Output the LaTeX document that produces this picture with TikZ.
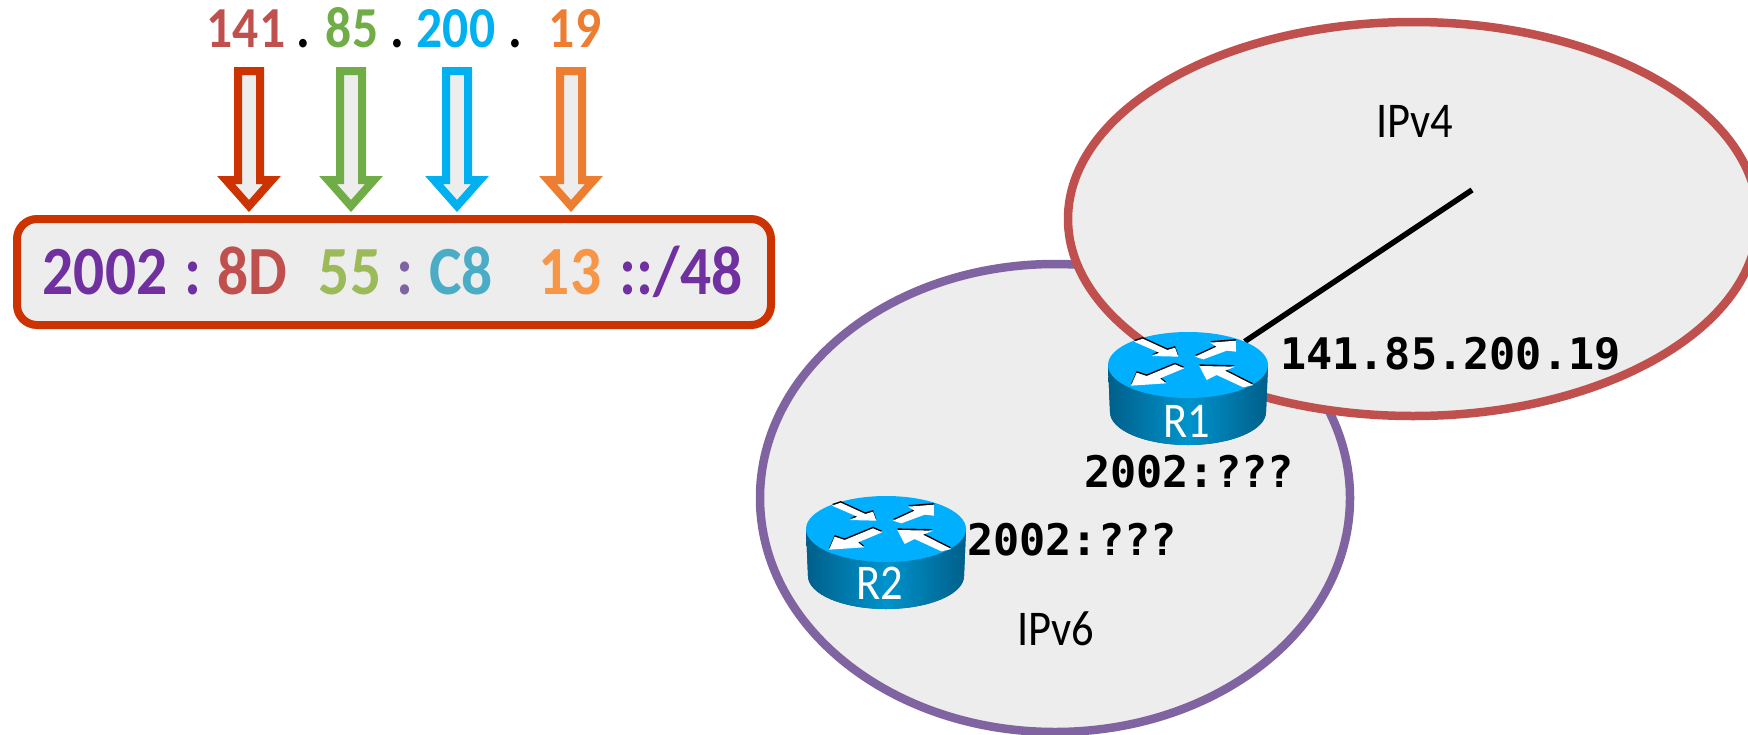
\documentclass[tikz,border=0pt]{standalone}
\usepackage{fontspec}
\setmainfont{Carlito}
\newfontfamily\cond{Carlito}[FakeStretch=0.89]
\newfontfamily\monob{DejaVu Sans Mono}[BoldFont={DejaVu Sans Mono Bold}]
\usetikzlibrary{shapes.geometric}
\definecolor{panel}{HTML}{EDEDED}
\definecolor{boxred}{HTML}{CC3300}
\definecolor{netred}{HTML}{C0504D}
\definecolor{netpurple}{HTML}{8064A2}
\definecolor{arrgreen}{HTML}{70AD47}
\definecolor{arrblue}{HTML}{00B0F0}
\definecolor{arrorange}{HTML}{ED7D31}
\definecolor{deeppurple}{HTML}{7030A0}
\definecolor{softgreen}{HTML}{9BBB59}
\definecolor{softteal}{HTML}{4BACC6}
\definecolor{softorange}{HTML}{F79646}
\definecolor{rtop}{HTML}{00B0FF}
\definecolor{rdark}{HTML}{005F8A}
\definecolor{rmid}{HTML}{0093CC}
\newcommand{\blockarrow}[2]{%
  \draw[line width=8pt,miter limit=10,fill=panel,draw=#2]
    (#1-11,71) -- (#1+11,71) -- (#1+11,180) -- (#1+23,180) -- (#1,206) -- (#1-23,180) -- (#1-11,180) -- cycle;}
\tikzset{
  net/.style={line width=8.5pt,fill=panel},
  toptext/.style={font=\fontsize{58}{58}\selectfont\cond\bfseries,anchor=base,inner sep=0pt},
  addr/.style={font=\fontsize{69}{69}\selectfont\cond\bfseries,anchor=base,inner sep=0pt},
  mono/.style={font=\fontsize{43.5}{44}\selectfont\monob\bfseries,anchor=base west,inner sep=0pt},
  netlabel/.style={font=\fontsize{50}{50}\selectfont\cond,anchor=base,inner sep=0pt},
  rlabel/.style={font=\fontsize{50}{50}\selectfont\cond,text=white,anchor=base,inner sep=0pt},
  rbody/.style={shape=ellipse,minimum width=160pt,minimum height=66pt,inner sep=0pt},
  rarrow/.pic={
    \fill[rdark,left color=rdark,right color=rdark,middle color=rmid]
      (-80,0) -- (-78,47) .. controls (-78,65.2) and (-43,80) .. (0,80)
      .. controls (43,80) and (78,65.2) .. (78,47) -- (80,0) -- cycle;
    \fill[rtop] (0,0) ellipse [x radius=80pt,y radius=33pt];
    \begin{scope}[x=0.3333pt,y=-0.3333pt,shift={(-384,-195)}]
      \foreach \st/\sh in {black/1.6pt,white/0pt}{
        \fill[\st,yshift=\sh] (222,125) -- (248,116) -- (322,150) -- (345,143) -- (355,170) -- (275,168) -- (298,158) -- cycle;
        \fill[\st,yshift=\sh] (405,170) -- (430,178) -- (500,152) -- (528,155) -- (528,122) -- (450,128) -- (470,140) -- cycle;
        \fill[\st,yshift=\sh] (345,193) -- (372,205) -- (300,235) -- (318,250) -- (213,257) -- (230,218) -- (260,228) -- cycle;
        \fill[\st,yshift=\sh] (418,198) -- (525,200) -- (495,212) -- (580,255) -- (550,262) -- (470,225) -- (440,240) -- cycle;
      }
    \end{scope}
  }
}
\begin{document}
\begin{tikzpicture}[x=1pt,y=-1pt]
\useasboundingbox (0,0) rectangle (1748,734);
\clip (0,0) rectangle (1748,734);
% top address
\node[toptext,text=netred] (q1) at (246,47) {141};
\node[toptext] (d1) at (303,47) {.};
\node[toptext,text=arrgreen] (q2) at (352,47) {85};
\node[toptext] (d2) at (397,47) {.};
\node[toptext,text=arrblue] (q3) at (456,47) {200};
\node[toptext] (d3) at (515,47) {.};
\node[toptext,text=arrorange] (q4) at (575,47) {19};
% block arrows
\blockarrow{249}{boxred}
\blockarrow{351}{arrgreen}
\blockarrow{457}{arrblue}
\blockarrow{571}{arrorange}
% address box
\draw[line width=8pt,draw=boxred,fill=panel,rounded corners=20pt] (17,219) rectangle (771,325);
\node[addr,text=deeppurple] (p0) at (105,294) {2002};
\node[addr,text=deeppurple] (c0) at (193,294) {:};
\node[addr,text=netred] (p1) at (252,294) {8D};
\node[addr,text=softgreen] (p2) at (350,294) {55};
\node[addr,text=netpurple] (c1) at (405,294) {:};
\node[addr,text=softteal] (p3) at (461,294) {C8};
\node[addr,text=softorange] (p4) at (570,294) {13};
\node[addr,text=deeppurple] (p5) at (681,294) {::/48};
% networks
\draw[net,draw=netpurple] (1055,498) ellipse [x radius=295pt,y radius=234pt];
\draw[net,draw=netred] (1413,219) ellipse [x radius=345pt,y radius=197pt];
\node[netlabel] (v4) at (1415,137) {IPv4};
\node[netlabel] (v6) at (1056,645) {IPv6};
% routers and link
\node[rbody] (R1) at (1188,365) {};
\node[rbody] (R2) at (886,529) {};
\coordinate (wan) at (1472,190);
\draw[line width=5pt,black!40,xshift=1.5pt,yshift=-3pt] (R1.north east) -- (wan);
\draw[line width=5.5pt,black] (R1.north east) -- (wan);
\pic at (R1.center) {rarrow};
\pic at (R2.center) {rarrow};
\node[rlabel] (n1) at (1187,437) {R1};
\node[rlabel] (n2) at (880,599) {R2};
\node[mono] (a1) at (1280,369) {141.85.200.19};
\node[mono] (a2) at (1084,487) {2002:???};
\node[mono] (a3) at (967,555) {2002:???};
\end{tikzpicture}
\end{document}
